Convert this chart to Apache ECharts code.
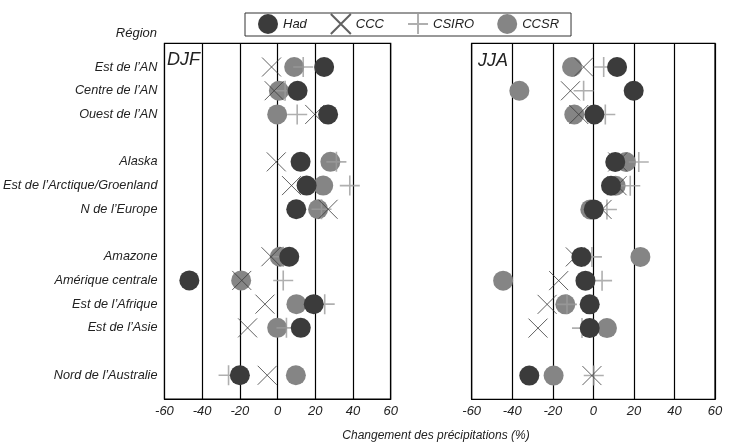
<!DOCTYPE html>
<html>
<head>
<meta charset="utf-8">
<script src="https://cdn.jsdelivr.net/npm/echarts@6/dist/echarts.min.js"></script>
<style>html,body{margin:0;padding:0;background:#fff}#c{width:732px;height:447px}</style>
</head>
<body>
<div id="c"></div>
<script>
// ---- Data ----
const regions = ["Est de l’AN","Centre de l’AN","Ouest de l’AN","Alaska","Est de l’Arctique/Groenland","N de l’Europe","Amazone","Amérique centrale","Est de l’Afrique","Est de l’Asie","Nord de l’Australie"];
const rowIndex = [0,1,2,4,5,6,8,9,10,11,13];
const xTicks = [-60,-40,-20,0,20,40,60];

const djfHad   = [24.7, 10.6, 26.8, 12.2, 15.4, 9.9, 6.2, -46.8, 19.2, 12.3, -20];
const djfCcc   = [-3.2, -1.8, 19.7, -0.7, 7.4, 26.8, -3.5, -19, -6.7, -15.9, -5.5];
const djfCsiro = [13.6, 4, 10.4, 31.2, 38.3, 23.3, 3, 3, 25, 4.7, -26];
const djfCcsr  = [8.8, 0.7, -0.2, 28, 24.2, 21.5, 1.2, -19.3, 10, -0.2, 9.7];

const jjaHad   = [11.7, 19.9, 0.5, 10.8, 8.7, 0.2, -5.9, -3.9, -1.8, -1.8, -31.6];
const jjaCcc   = [-4.8, -11.3, -7.2, 12, 11.7, 4.3, -8.9, -17.1, -22.8, -27.3, -0.7];
const jjaCsiro = [5.1, -4.8, 5.9, 22.4, 18.2, 6.7, -0.7, 4.3, -13, -5.6, 0.2];
const jjaCcsr  = [-10.5, -36.5, -9.4, 16.1, 11, -1.5, 23.2, -44.5, -13.8, 6.7, -19.6];

// ---- Build ----
const FONT = "'Liberation Sans', Arial, sans-serif";
const pts = vals => vals.map((v, i) => [v, rowIndex[i]]);
const labelMap = {};
rowIndex.forEach((r, i) => labelMap[r] = regions[i]);

const SYM_X = 'path://M0,0L20,20M20,0L0,20';
const SYM_P = 'path://M10,0L10,20M0,10L20,10';

function panelSeries(idx, had, ccc, csiro, ccsr) {
  const base = {type: 'scatter', xAxisIndex: idx, yAxisIndex: idx, silent: true, emphasis: {disabled: true}};
  return [
    Object.assign({}, base, {name: 'CCSR', data: pts(ccsr), symbol: 'circle', symbolSize: 20,
      itemStyle: {color: '#858585', opacity: 1}}),
    Object.assign({}, base, {name: 'CSIRO', data: pts(csiro), symbol: SYM_P, symbolSize: 20,
      itemStyle: {color: 'transparent', borderColor: '#9b9b9b', borderWidth: 1.6}}),
    Object.assign({}, base, {name: 'CCC', data: pts(ccc), symbol: SYM_X, symbolSize: 19,
      itemStyle: {color: 'transparent', borderColor: '#3a3a3a', borderWidth: 1}}),
    Object.assign({}, base, {name: 'Had', data: pts(had), symbol: 'circle', symbolSize: 20,
      itemStyle: {color: '#3b3b3b', opacity: 1}})
  ];
}

function xAxis(idx) {
  return {
    type: 'value', gridIndex: idx, min: -60, max: 60, interval: 20,
    axisLine: {show: true, onZero: false, lineStyle: {color: '#000', width: 1.2}},
    axisTick: {show: false},
    splitLine: {show: true, lineStyle: {color: '#000', width: 1.2}},
    axisLabel: {fontFamily: FONT, fontStyle: 'italic', fontSize: 13, color: '#222', margin: 6,
      formatter: v => String(v)}
  };
}
function yAxis(idx, showLabels) {
  return {
    type: 'value', gridIndex: idx, inverse: true, min: -1, max: 14, interval: 1,
    axisLine: {show: false, onZero: false}, axisTick: {show: false}, splitLine: {show: false},
    axisLabel: {show: showLabels, fontFamily: FONT, fontStyle: 'italic', fontSize: 12.7, color: '#222', margin: 7,
      formatter: v => labelMap[v] || ''}
  };
}

const chart = echarts.init(document.getElementById('c'), null, {renderer: 'canvas'});
chart.setOption({
  animation: false,
  backgroundColor: '#fff',
  grid: [
    {left: 164, top: 43.3, width: 226.7, height: 355.7, show: true, borderColor: '#000', borderWidth: 1.2, backgroundColor: 'transparent'},
    {left: 471.7, top: 43.3, width: 243.3, height: 356, show: true, borderColor: '#000', borderWidth: 1.2, backgroundColor: 'transparent'}
  ],
  xAxis: [xAxis(0), xAxis(1)],
  yAxis: [yAxis(0, true), yAxis(1, false)],
  legend: {
    data: ['Had', 'CCC', 'CSIRO', 'CCSR'],
    left: 245, top: 13,
    orient: 'horizontal',
    itemWidth: 20, itemHeight: 20, itemGap: 23,
    padding: [0, 12, 1, 13],
    borderColor: '#333', borderWidth: 1,
    textStyle: {fontFamily: FONT, fontStyle: 'italic', fontSize: 13, color: '#222'},
    selectedMode: false
  },
  graphic: [
    {type: 'text', x: 157, y: 27, style: {text: 'Région', font: 'italic 13px ' + FONT, fill: '#222', textAlign: 'right'}},
    {type: 'text', x: 167, y: 51, z: 100, style: {text: 'DJF', font: 'italic 18px ' + FONT, fill: '#222'}},
    {type: 'text', x: 478, y: 52, z: 100, style: {text: 'JJA', font: 'italic 18px ' + FONT, fill: '#222'}},
    {type: 'text', x: 436, y: 430, style: {text: 'Changement des précipitations (%)', font: 'italic 12px ' + FONT, fill: '#222', textAlign: 'center'}}
  ],
  series: [].concat(
    panelSeries(0, djfHad, djfCcc, djfCsiro, djfCcsr),
    panelSeries(1, jjaHad, jjaCcc, jjaCsiro, jjaCcsr)
  )
});
</script>
</body>
</html>
